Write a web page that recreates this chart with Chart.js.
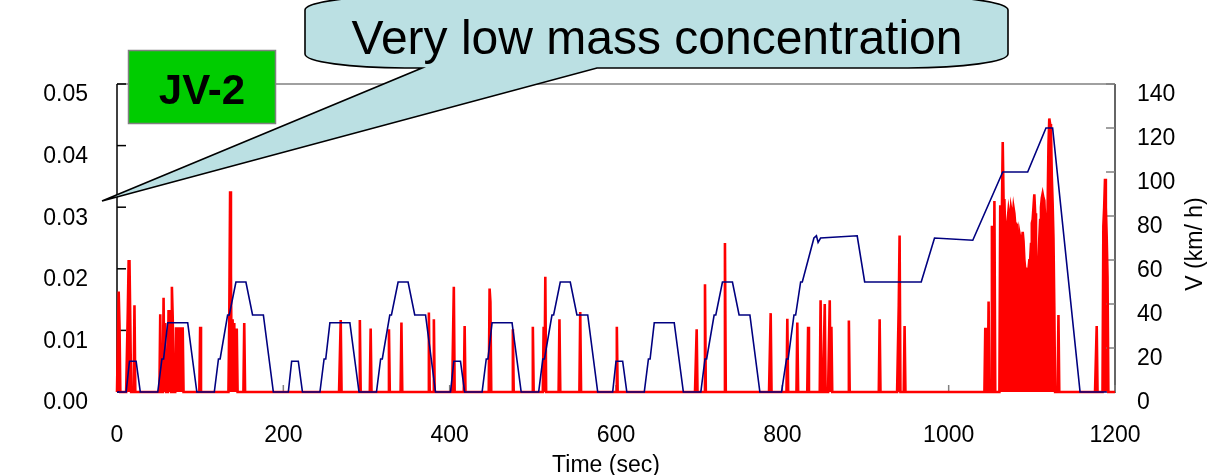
<!DOCTYPE html>
<html><head><meta charset="utf-8">
<script src="https://cdn.jsdelivr.net/npm/chart.js@4.4.1/dist/chart.umd.min.js"></script>
<style>html,body{margin:0;padding:0;background:#fff;overflow:hidden}canvas{display:block}</style>
</head><body>
<canvas id="c" width="1207" height="475"></canvas>
<script>
// ---- tick labels ----
const xTicks = [0, 200, 400, 600, 800, 1000, 1200];
const massTicks = [0, 0.01, 0.02, 0.03, 0.04, 0.05];
const speedTicks = [0, 20, 40, 60, 80, 100, 120, 140];

// ---- vehicle speed trace (km/h), vertices ----
const speedTime = [
  0, 11, 15, 23, 28, 49, 54, 56, 61, 85, 96, 117, 122, 124, 133, 135, 143, 155, 163, 176, 188,
  206, 210, 218, 223, 244, 249, 251, 256, 280, 291, 312, 317, 319, 328, 330, 338, 350, 358, 371, 383,
  401, 405, 413, 418, 439, 444, 446, 451, 475, 486, 507, 512, 514, 523, 525, 533, 545, 553, 566, 578,
  596, 600, 608, 613, 634, 639, 641, 646, 670, 681, 702, 707, 709, 718, 720, 728, 740, 748, 761, 773,
  799, 805, 807, 814, 816, 822, 824, 838, 841, 843, 846, 890, 899, 967, 983, 1029, 1065, 1095, 1117, 1125, 1158, 1190
];
const speedKmh = [
  0, 0, 14, 14, 0, 0, 15, 15, 31.5, 31.5, 0, 0, 15, 15, 35, 35, 50, 50, 35, 35, 0,
  0, 14, 14, 0, 0, 15, 15, 31.5, 31.5, 0, 0, 15, 15, 35, 35, 50, 50, 35, 35, 0,
  0, 14, 14, 0, 0, 15, 15, 31.5, 31.5, 0, 0, 15, 15, 35, 35, 50, 50, 35, 35, 0,
  0, 14, 14, 0, 0, 15, 15, 31.5, 31.5, 0, 0, 15, 15, 35, 35, 50, 50, 35, 35, 0,
  0, 15, 15, 35, 35, 50, 50, 70, 71, 68, 70, 71, 50, 50, 70, 69, 100, 100, 120, 120, 0, 0
];

// ---- particle mass concentration: isolated spikes (sec, value) ----
const spikeTime = [
  2, 3, 13, 14, 15, 16, 21, 52, 56, 58, 62, 64, 66, 67, 71, 72, 73, 74, 75, 76, 77, 78, 79, 100,
  135, 136, 137, 139, 141, 144, 153, 269, 292, 305, 327, 342, 375, 381, 405, 418, 448, 449,
  476, 500, 513, 515, 532, 557, 601, 697, 707, 731, 786, 806, 818, 831, 846, 851, 857, 859,
  880, 917, 940, 941, 947, 1044, 1045, 1048, 1052, 1055, 1132, 1178, 1186, 1187, 1188, 1189, 1190, 1191
];
const spikeMass = [
  0.0163, 0.0108, 0.0132, 0.0212, 0.0212, 0.0110, 0.0141, 0.0126, 0.0153, 0.0112, 0.0133, 0.0133, 0.0171, 0.0120,
  0.0103, 0.0103, 0.0103, 0.0103, 0.0103, 0.0103, 0.0103, 0.0103, 0.0103, 0.0106,
  0.0118, 0.0326, 0.0193, 0.0118, 0.0112, 0.0103, 0.0112, 0.0117, 0.0117, 0.0103, 0.0102, 0.0113, 0.0129, 0.0118,
  0.0171, 0.0107, 0.0168, 0.0146, 0.0102, 0.0106, 0.0106, 0.0187, 0.0118, 0.0130, 0.0106, 0.0102, 0.0175, 0.0242,
  0.0128, 0.0119, 0.0113, 0.0106, 0.0149, 0.0143, 0.0149, 0.0106, 0.0116, 0.0118, 0.0141, 0.0254, 0.0107,
  0.0102, 0.0102, 0.0147, 0.0270, 0.0310, 0.0125, 0.0107, 0.0269, 0.0300, 0.0346, 0.0300, 0.0252, 0.0187
];
// ---- dense burst during high-speed part, one value per second from burstStart ----
const burstStart = 1062;
const burstMass = [
  0.0301, 0.0301, 0.0290, 0.0406, 0.0311, 0.0311, 0.0260, 0.0252, 0.0252, 0.0280,
  0.0295, 0.0285, 0.0270, 0.0298, 0.0290, 0.0280, 0.0299, 0.0290, 0.0273, 0.0273,
  0.0220, 0.0169, 0.0230, 0.0258, 0.0250, 0.0230, 0.0245, 0.0260, 0.0245, 0.0215,
  0.0200, 0.0200, 0.0190, 0.0186, 0.0200, 0.0214, 0.0214, 0.0240, 0.0274, 0.0280,
  0.0300, 0.0321, 0.0290, 0.0200, 0.0160, 0.0190, 0.0216, 0.0250, 0.0279, 0.0300,
  0.0315, 0.0322, 0.0315, 0.0311, 0.0280, 0.0260, 0.0246, 0.0300, 0.0400, 0.0444,
  0.0435, 0.0426, 0.0350, 0.0306, 0.0250, 0.0138
];
const traceEnd = 1200;

// build tables for the library
const speedPts = speedTime.map((t, i) => ({x: t, y: speedKmh[i]}));
const massPts = [];
for (let t = 0; t <= traceEnd; t++) massPts.push({x: t, y: 0});
spikeTime.forEach((t, i) => { massPts[t].y = spikeMass[i]; });
burstMass.forEach((v, i) => { massPts[burstStart + i].y = v; });

const FONT = 'Liberation Sans, Arial, sans-serif';

function seg(ctx, x1, y1, x2, y2) { ctx.beginPath(); ctx.moveTo(x1, y1); ctx.lineTo(x2, y2); ctx.stroke(); }

const decor = {
  id: 'decor',
  beforeDatasetsDraw(chart) {
    const {ctx, chartArea: a, scales} = chart;
    ctx.save();
    ctx.lineWidth = 1.5;
    ctx.strokeStyle = '#808080';
    seg(ctx, a.left, a.top, a.right, a.top);
    ctx.strokeStyle = '#000';
    seg(ctx, a.left, a.top, a.left, a.bottom);
    ctx.strokeStyle = '#333';
    seg(ctx, a.right, a.top, a.right, a.bottom + 1);
    ctx.strokeStyle = '#000';
    massTicks.forEach(v => { const y = scales.y.getPixelForValue(v); seg(ctx, a.left, y, a.left + 9, y); });
    ctx.strokeStyle = '#808080';
    speedTicks.forEach(v => { const y = scales.y2.getPixelForValue(v); seg(ctx, a.right - 9, y, a.right, y); });
    xTicks.forEach(v => { const x = scales.x.getPixelForValue(v); seg(ctx, x, a.bottom - 7, x, a.bottom); });
    ctx.restore();
  },
  afterDraw(chart) {
    const {ctx} = chart;
    ctx.save();
    // axis titles
    ctx.fillStyle = '#000';
    ctx.font = '23px ' + FONT;
    ctx.textAlign = 'center';
    ctx.textBaseline = 'alphabetic';
    ctx.fillText('Time (sec)', 606, 472);
    ctx.save();
    ctx.translate(1202, 244);
    ctx.rotate(-Math.PI / 2);
    ctx.fillText('V (km/ h)', 0, 0);
    ctx.restore();

    // callout bubble with pointer
    const L = 305, R = 1008, T = -4, B = 68, rx = 100, ry = 14;
    ctx.beginPath();
    ctx.moveTo(L + rx, T);
    ctx.lineTo(R - rx, T);
    ctx.ellipse(R - rx, T + ry, rx, ry, 0, -Math.PI / 2, 0);
    ctx.lineTo(R, B - ry);
    ctx.ellipse(R - rx, B - ry, rx, ry, 0, 0, Math.PI / 2);
    ctx.lineTo(597, B);
    ctx.lineTo(102, 201);
    ctx.lineTo(422, B);
    ctx.lineTo(L + rx, B);
    ctx.ellipse(L + rx, B - ry, rx, ry, 0, Math.PI / 2, Math.PI);
    ctx.lineTo(L, T + ry);
    ctx.ellipse(L + rx, T + ry, rx, ry, 0, Math.PI, Math.PI * 1.5);
    ctx.closePath();
    ctx.fillStyle = '#BBE0E3';
    ctx.fill();
    ctx.lineWidth = 1.6;
    ctx.strokeStyle = '#000';
    ctx.lineJoin = 'miter';
    ctx.stroke();
    ctx.fillStyle = '#000';
    ctx.font = '48px ' + FONT;
    ctx.textAlign = 'center';
    ctx.fillText('Very low mass concentration', 657, 54);

    // JV-2 label box
    ctx.fillStyle = '#00CC00';
    ctx.fillRect(128.5, 50.5, 147, 73);
    ctx.lineWidth = 1.5;
    ctx.strokeStyle = '#808080';
    ctx.strokeRect(128.5, 50.5, 147, 73);
    ctx.fillStyle = '#000';
    ctx.font = 'bold 42px ' + FONT;
    ctx.fillText('JV-2', 202, 104);
    ctx.restore();
  }
};

const tickFont = {family: FONT, size: 23};

new Chart(document.getElementById('c'), {
  type: 'line',
  data: {
    datasets: [
      {label: 'V (km/h)', data: speedPts, yAxisID: 'y2', borderColor: '#000080', borderWidth: 1.6,
       pointRadius: 0, tension: 0, fill: false, clip: 4, order: -1},
      {label: 'Mass concentration', data: massPts, yAxisID: 'y', borderColor: '#FF0000', borderWidth: 2.6,
       backgroundColor: '#FF0000', pointRadius: 0, tension: 0, fill: 'origin', clip: 4, order: 1}
    ]
  },
  options: {
    responsive: false,
    animation: false,
    devicePixelRatio: 1,
    layout: {padding: {top: 84, left: 0, right: 0, bottom: 0}},
    plugins: {legend: {display: false}, tooltip: {enabled: false}, filler: {drawTime: 'beforeDatasetsDraw'}},
    scales: {
      x: {
        type: 'linear', min: 0, max: 1200,
        afterBuildTicks: s => { s.ticks = xTicks.map(v => ({value: v})); },
        afterFit: s => { s.height = 83; },
        ticks: {font: tickFont, color: '#000', padding: 30, maxRotation: 0, autoSkip: false, callback: v => String(v)},
        grid: {display: false, drawTicks: false},
        border: {display: false}
      },
      y: {
        position: 'left', min: 0, max: 0.05,
        afterBuildTicks: s => { s.ticks = massTicks.map(v => ({value: v})); },
        afterFit: s => { s.width = 117; },
        ticks: {font: tickFont, color: '#000', padding: 29, labelOffset: 11, callback: v => Number(v).toFixed(2)},
        grid: {display: false, drawTicks: false},
        border: {display: false}
      },
      y2: {
        position: 'right', min: 0, max: 140,
        afterBuildTicks: s => { s.ticks = speedTicks.map(v => ({value: v})); },
        afterFit: s => { s.width = 92; },
        ticks: {font: tickFont, color: '#000', padding: 22, labelOffset: 11},
        grid: {display: false, drawTicks: false},
        border: {display: false}
      }
    }
  },
  plugins: [decor]
});
</script>
</body></html>
